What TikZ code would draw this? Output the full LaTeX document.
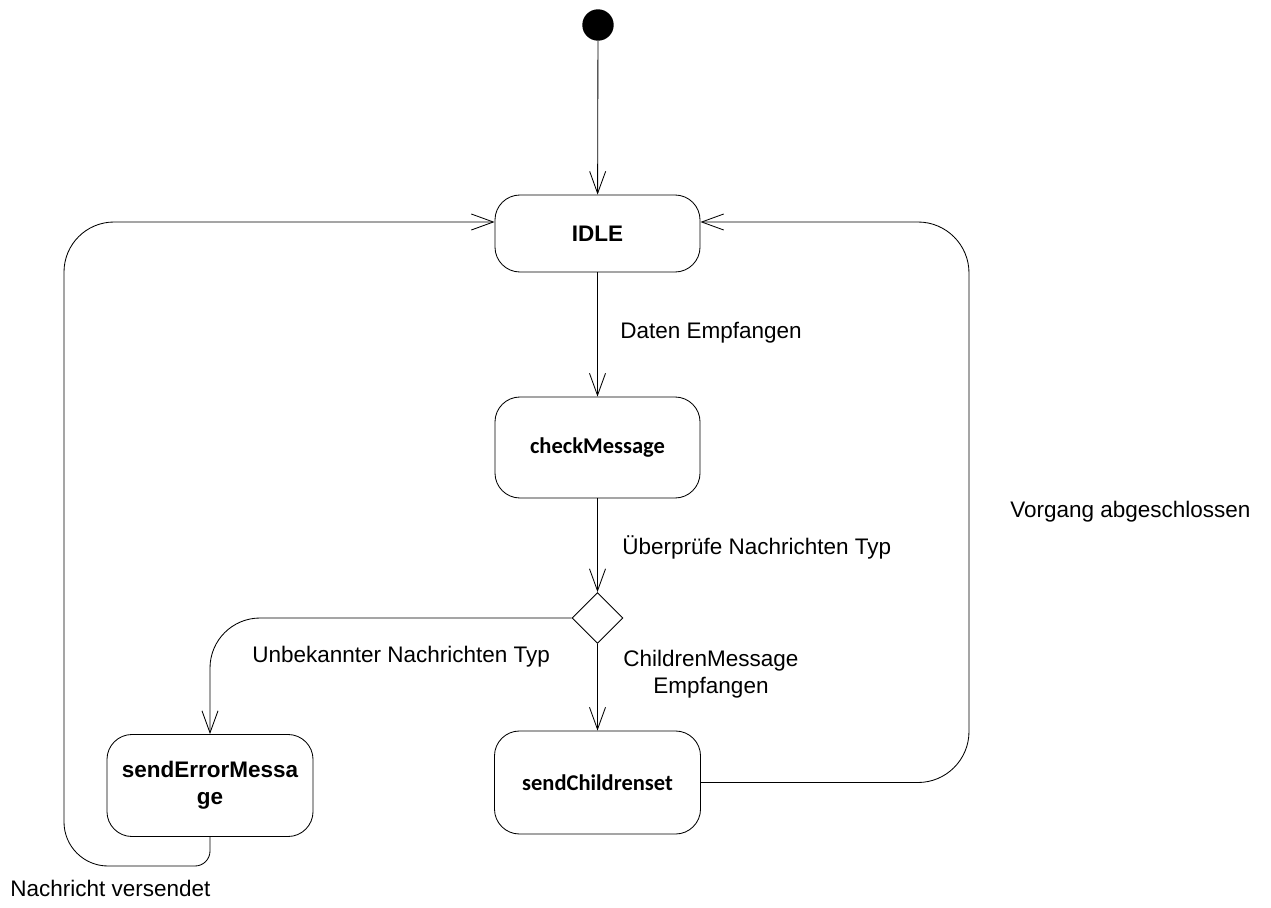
\documentclass[tikz,border=0pt]{standalone}
\usepackage{fontspec}
\setmainfont{Liberation Sans}
\newfontfamily\calibrifont{Carlito}
\usetikzlibrary{shapes.geometric,arrows.meta}

\begin{document}
\begin{tikzpicture}[x=0.025cm, y=-0.025cm,
        state/.style={draw, rounded corners=0.625cm, minimum width=5.125cm, align=center,
            line width=0.6pt, font=\fontsize{16}{19.2}\selectfont\bfseries},
        cstate/.style={state, font=\fontsize{16}{19.2}\selectfont\calibrifont\bfseries},
        flow/.style={-{Straight Barb[length=0.55cm, width=0.4cm]}, line width=0.6pt},
        lbl/.style={anchor=west, inner sep=0pt, font=\fontsize{16}{19.2}\selectfont}]
        \useasboundingbox (0, 0) rectangle (1271, 908);

        \draw (598, 25) node[circle, fill=black, minimum size=0.785cm, inner sep=0pt](start){}
        (597.5, 233.5) node[state, minimum height=1.925cm](idle){IDLE}
        (597.5, 447.5) node[cstate, minimum height=2.525cm](check){checkMessage}
        (597.5, 618) node[diamond, draw, aspect=1, minimum size=1.275cm, inner sep=0pt, line width=0.6pt](choice){}
        (210, 785.5) node[state, minimum width=5.15cm, minimum height=2.55cm](errmsg){sendErrorMessa\\ge}
        (597.5, 782.5) node[cstate, minimum width=5.15cm, minimum height=2.575cm](children){sendChildrenset};

        \draw (620, 333) node[lbl](lblrecv){Daten Empfangen}
        (622, 547) node[lbl](lblcheck){Überprüfe Nachrichten Typ}
        (252, 657) node[lbl](lblunknown){Unbekannter Nachrichten Typ}
        (711, 674) node[align=center, inner sep=0pt, font=\fontsize{16}{19.2}\selectfont](lblchildren){ChildrenMessage\\Empfangen}
        (1010, 512) node[lbl](lbldone){Vorgang abgeschlossen}
        (10, 888) node[lbl](lblsent){Nachricht versendet};

        \coordinate (rtop) at (969, 222);
        \coordinate (lbot) at (64, 866);
        \coordinate (ltop) at (64, 222);

        \draw[flow] (start) -- (idle);
        \draw[flow] (idle) -- (check);
        \draw[flow] (check) -- (choice);
        \draw[flow, rounded corners=1.25cm] (choice.west) -| (errmsg.north);
        \draw[flow] (choice) -- (children);
        \draw[flow, rounded corners=1.275cm] (children.east) -| (rtop) -- (rtop -| idle.east);
        \draw[flow] (errmsg.south) [rounded corners=0.375cm] -- (errmsg.south |- lbot)
            [rounded corners=1.1cm] -- (lbot) [rounded corners=1.25cm] -- (ltop) -- (ltop -| idle.west);
    \end{tikzpicture}
\end{document}
